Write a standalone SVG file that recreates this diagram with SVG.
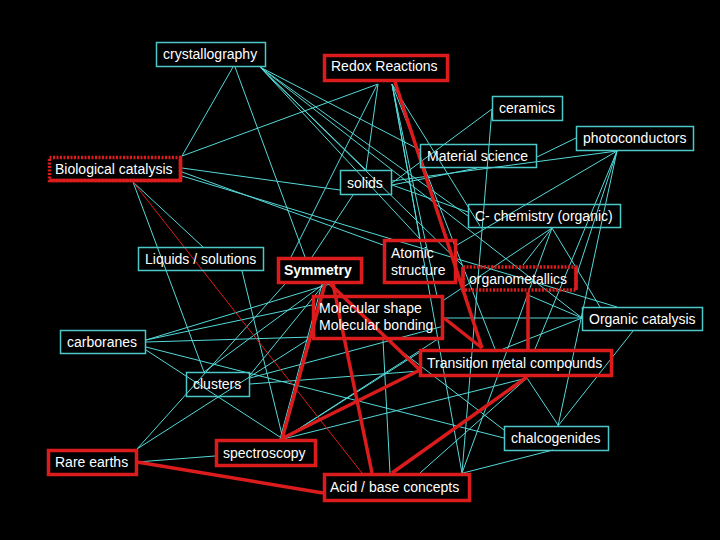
<svg xmlns="http://www.w3.org/2000/svg" width="720" height="540" viewBox="0 0 720 540">
<style>
.c line{stroke:#55d8d8;stroke-width:1}
.r line{stroke:#dc1c1c;stroke-width:3.5}
.t{fill:none;stroke:#4cc8c8;stroke-width:1.5}
.rd{fill:none;stroke:#dc1c1c;stroke-width:3.5}
.dt{fill:none;stroke:#dc1c1c;stroke-width:3.5;stroke-dasharray:2 1.5}
text{font-family:"Liberation Sans",Arial,sans-serif;font-size:14px;fill:#ffffff}
</style>
<rect width="720" height="540" fill="#000"/>
<g id="connectors">
<g class="c">
<line x1="233" y1="67" x2="182" y2="156"/>
<line x1="235" y1="67" x2="305" y2="257"/>
<line x1="260" y1="67" x2="420" y2="150"/>
<line x1="260" y1="67" x2="468" y2="216"/>
<line x1="260" y1="67" x2="582" y2="318"/>
<line x1="260" y1="67" x2="462" y2="265"/>
<line x1="260" y1="67" x2="366" y2="170"/>
<line x1="260" y1="67" x2="420" y2="239"/>
<line x1="378" y1="84" x2="182" y2="156"/>
<line x1="378" y1="84" x2="366" y2="170"/>
<line x1="377" y1="85" x2="291" y2="257"/>
<line x1="392" y1="84" x2="420" y2="239"/>
<line x1="392" y1="84" x2="495" y2="349"/>
<line x1="392" y1="84" x2="462" y2="473"/>
<line x1="392" y1="84" x2="437" y2="296"/>
<line x1="392" y1="84" x2="480" y2="226"/>
<line x1="392" y1="183" x2="492" y2="109"/>
<line x1="492" y1="109" x2="462" y2="473"/>
<line x1="576" y1="138" x2="537" y2="157"/>
<line x1="617" y1="151" x2="392" y2="181"/>
<line x1="617" y1="151" x2="457" y2="245"/>
<line x1="617" y1="151" x2="535" y2="349"/>
<line x1="617" y1="151" x2="575" y2="280"/>
<line x1="617" y1="151" x2="558" y2="426"/>
<line x1="392" y1="185" x2="477" y2="168"/>
<line x1="392" y1="185" x2="468" y2="212"/>
<line x1="353" y1="195" x2="312" y2="257"/>
<line x1="182" y1="168" x2="340" y2="190"/>
<line x1="182" y1="172" x2="383" y2="245"/>
<line x1="182" y1="176" x2="617" y2="307"/>
<line x1="133" y1="182" x2="203" y2="247"/>
<line x1="133" y1="182" x2="204" y2="372"/>
<line x1="242" y1="271" x2="283" y2="439"/>
<line x1="146" y1="340" x2="330" y2="284"/>
<line x1="146" y1="340" x2="312" y2="305"/>
<line x1="146" y1="342" x2="312" y2="337"/>
<line x1="146" y1="347" x2="504" y2="438"/>
<line x1="146" y1="350" x2="283" y2="439"/>
<line x1="137" y1="449" x2="312" y2="337"/>
<line x1="137" y1="449" x2="285" y2="284"/>
<line x1="137" y1="462" x2="215" y2="456"/>
<line x1="250" y1="378" x2="444" y2="326"/>
<line x1="250" y1="384" x2="420" y2="371"/>
<line x1="325" y1="283" x2="250" y2="375"/>
<line x1="325" y1="283" x2="204" y2="372"/>
<line x1="322" y1="284" x2="280" y2="439"/>
<line x1="383" y1="340" x2="390" y2="473"/>
<line x1="383" y1="337" x2="504" y2="430"/>
<line x1="527" y1="378" x2="558" y2="425"/>
<line x1="527" y1="378" x2="283" y2="439"/>
<line x1="527" y1="378" x2="420" y2="473"/>
<line x1="633" y1="331" x2="558" y2="426"/>
<line x1="553" y1="450" x2="463" y2="473"/>
<line x1="552" y1="228" x2="462" y2="473"/>
<line x1="444" y1="318" x2="582" y2="318"/>
<line x1="528" y1="295" x2="582" y2="318"/>
<line x1="582" y1="318" x2="503" y2="349"/>
<line x1="552" y1="228" x2="523" y2="265"/>
<line x1="552" y1="228" x2="600" y2="307"/>
<line x1="552" y1="228" x2="444" y2="300"/>
<line x1="283" y1="439" x2="420" y2="352"/>
<line x1="283" y1="439" x2="444" y2="335"/>
</g>
<g class="r">
<line x1="395" y1="82" x2="482" y2="348"/>
<line x1="330" y1="284" x2="420" y2="370"/>
<line x1="333" y1="284" x2="372" y2="473"/>
<line x1="325" y1="284" x2="282" y2="439"/>
<line x1="444" y1="318" x2="482" y2="348"/>
<line x1="528" y1="292" x2="528" y2="349"/>
<line x1="283" y1="438" x2="420" y2="370"/>
<line x1="527" y1="377" x2="392" y2="473"/>
<line x1="137" y1="462" x2="323" y2="493"/>
<line x1="133" y1="182" x2="362" y2="473" style="stroke-width:1"/>
</g>
</g>
<g id="crystallography"><rect class="t" x="156.5" y="42.5" width="109" height="24"/><text x="163" y="59">crystallography</text></g>
<g id="redox"><rect class="rd" x="324.5" y="55.5" width="123" height="25"/><text x="331" y="71">Redox Reactions</text></g>
<g id="ceramics"><rect class="t" x="492.5" y="96.5" width="70" height="24"/><text x="499" y="113">ceramics</text></g>
<g id="photoconductors"><rect class="t" x="576.5" y="126.5" width="117" height="24"/><text x="583" y="143">photoconductors</text></g>
<g id="material-science"><rect class="t" x="420.5" y="144.5" width="116" height="23"/><text x="427" y="161">Material science</text></g>
<g id="biological-catalysis"><rect class="dt" x="49.5" y="157.5" width="131" height="23"/><path d="M49.5 180.5H180.5V157.5" fill="none" stroke="#dc1c1c" stroke-width="3.5"/><text x="55" y="174">Biological catalysis</text></g>
<g id="solids"><rect class="t" x="340.5" y="170.5" width="51" height="24"/><text x="347" y="188">solids</text></g>
<g id="c-chemistry"><rect class="t" x="468.5" y="204.5" width="152" height="23"/><text x="475" y="221">C- chemistry (organic)</text></g>
<g id="liquids"><rect class="t" x="138.5" y="247.5" width="125" height="23"/><text x="145" y="264">Liquids / solutions</text></g>
<g id="symmetry"><rect class="rd" x="278.5" y="258.5" width="83" height="24"/><text x="284" y="275" font-weight="bold" font-size="13.5">Symmetry</text></g>
<g id="atomic-structure"><rect class="rd" x="384.5" y="240.5" width="71" height="42"/><text x="391" y="258">Atomic</text><text x="391" y="275">structure</text></g>
<g id="organometallics"><rect class="dt" x="463" y="267" width="113" height="23"/><path d="M463 267V290M576 267V290" fill="none" stroke="#dc1c1c" stroke-width="3.5"/><text x="469" y="284">organometallics</text></g>
<g id="molecular"><rect class="rd" x="313.5" y="296.5" width="129" height="42"/><text x="319" y="313">Molecular shape</text><text x="319" y="330">Molecular bonding</text></g>
<g id="organic-catalysis"><rect class="t" x="582.5" y="307.5" width="120" height="23"/><text x="589" y="324">Organic catalysis</text></g>
<g id="carboranes"><rect class="t" x="60.5" y="330.5" width="85" height="23"/><text x="67" y="347">carboranes</text></g>
<g id="transition-metal"><rect class="rd" x="420.5" y="350.5" width="191" height="25"/><text x="427" y="368">Transition metal compounds</text></g>
<g id="clusters"><rect class="t" x="186.5" y="372.5" width="63" height="24"/><text x="193" y="389">clusters</text></g>
<g id="chalcogenides"><rect class="t" x="504.5" y="426.5" width="104" height="24"/><text x="511" y="443">chalcogenides</text></g>
<g id="rare-earths"><rect class="rd" x="48.5" y="450.5" width="88" height="24"/><text x="55" y="467">Rare earths</text></g>
<g id="spectroscopy"><rect class="rd" x="216.5" y="440.5" width="99" height="25"/><text x="223" y="458">spectroscopy</text></g>
<g id="acid-base"><rect class="rd" x="324.5" y="474.5" width="145" height="26"/><text x="330" y="492">Acid / base concepts</text></g>
</svg>
